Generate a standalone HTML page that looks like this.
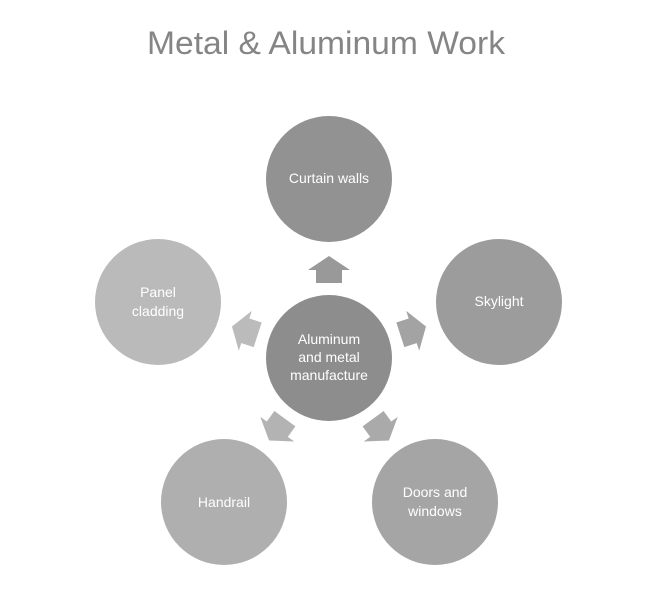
<!DOCTYPE html>
<html><head><style>html,body{margin:0;padding:0;background:#fff;}svg{display:block}</style></head>
<body>
<svg width="648" height="592" viewBox="0 0 648 592" xmlns="http://www.w3.org/2000/svg" font-family="Liberation Sans, DejaVu Sans, sans-serif">
<text x="326" y="54" font-size="32" fill="#858585" text-anchor="middle" textLength="358" lengthAdjust="spacingAndGlyphs">Metal &amp; Aluminum Work</text>
<defs>
<polygon id="arr" points="0,-14 21,0 13,0 13,13 -13,13 -13,0 -21,0"/>
</defs>
<g transform="translate(329,358)">
<use href="#arr" transform="rotate(0) translate(0,-88)" fill="#999"/>
<use href="#arr" transform="rotate(72) translate(0,-88)" fill="#a3a3a3"/>
<use href="#arr" transform="rotate(144) translate(0,-88)" fill="#aaaaaa"/>
<use href="#arr" transform="rotate(216) translate(0,-88)" fill="#b3b3b3"/>
<use href="#arr" transform="rotate(288) translate(0,-88)" fill="#bbbbbb"/>
</g>
<circle cx="329" cy="358" r="63" fill="#8d8d8d"/>
<circle cx="329" cy="179" r="63" fill="#929292"/>
<circle cx="499" cy="302" r="63" fill="#9c9c9c"/>
<circle cx="435" cy="502" r="63" fill="#a5a5a5"/>
<circle cx="224" cy="502" r="63" fill="#afafaf"/>
<circle cx="158" cy="302" r="63" fill="#bababa"/>
<g fill="#fff" font-size="14" text-anchor="middle">
<text x="329" y="344">Aluminum</text>
<text x="329" y="362">and metal</text>
<text x="329" y="380">manufacture</text>
<text x="329" y="183">Curtain walls</text>
<text x="499" y="306">Skylight</text>
<text x="435" y="497">Doors and</text>
<text x="435" y="516">windows</text>
<text x="224" y="507">Handrail</text>
<text x="158" y="297">Panel</text>
<text x="158" y="316">cladding</text>
</g>
</svg>
</body></html>
